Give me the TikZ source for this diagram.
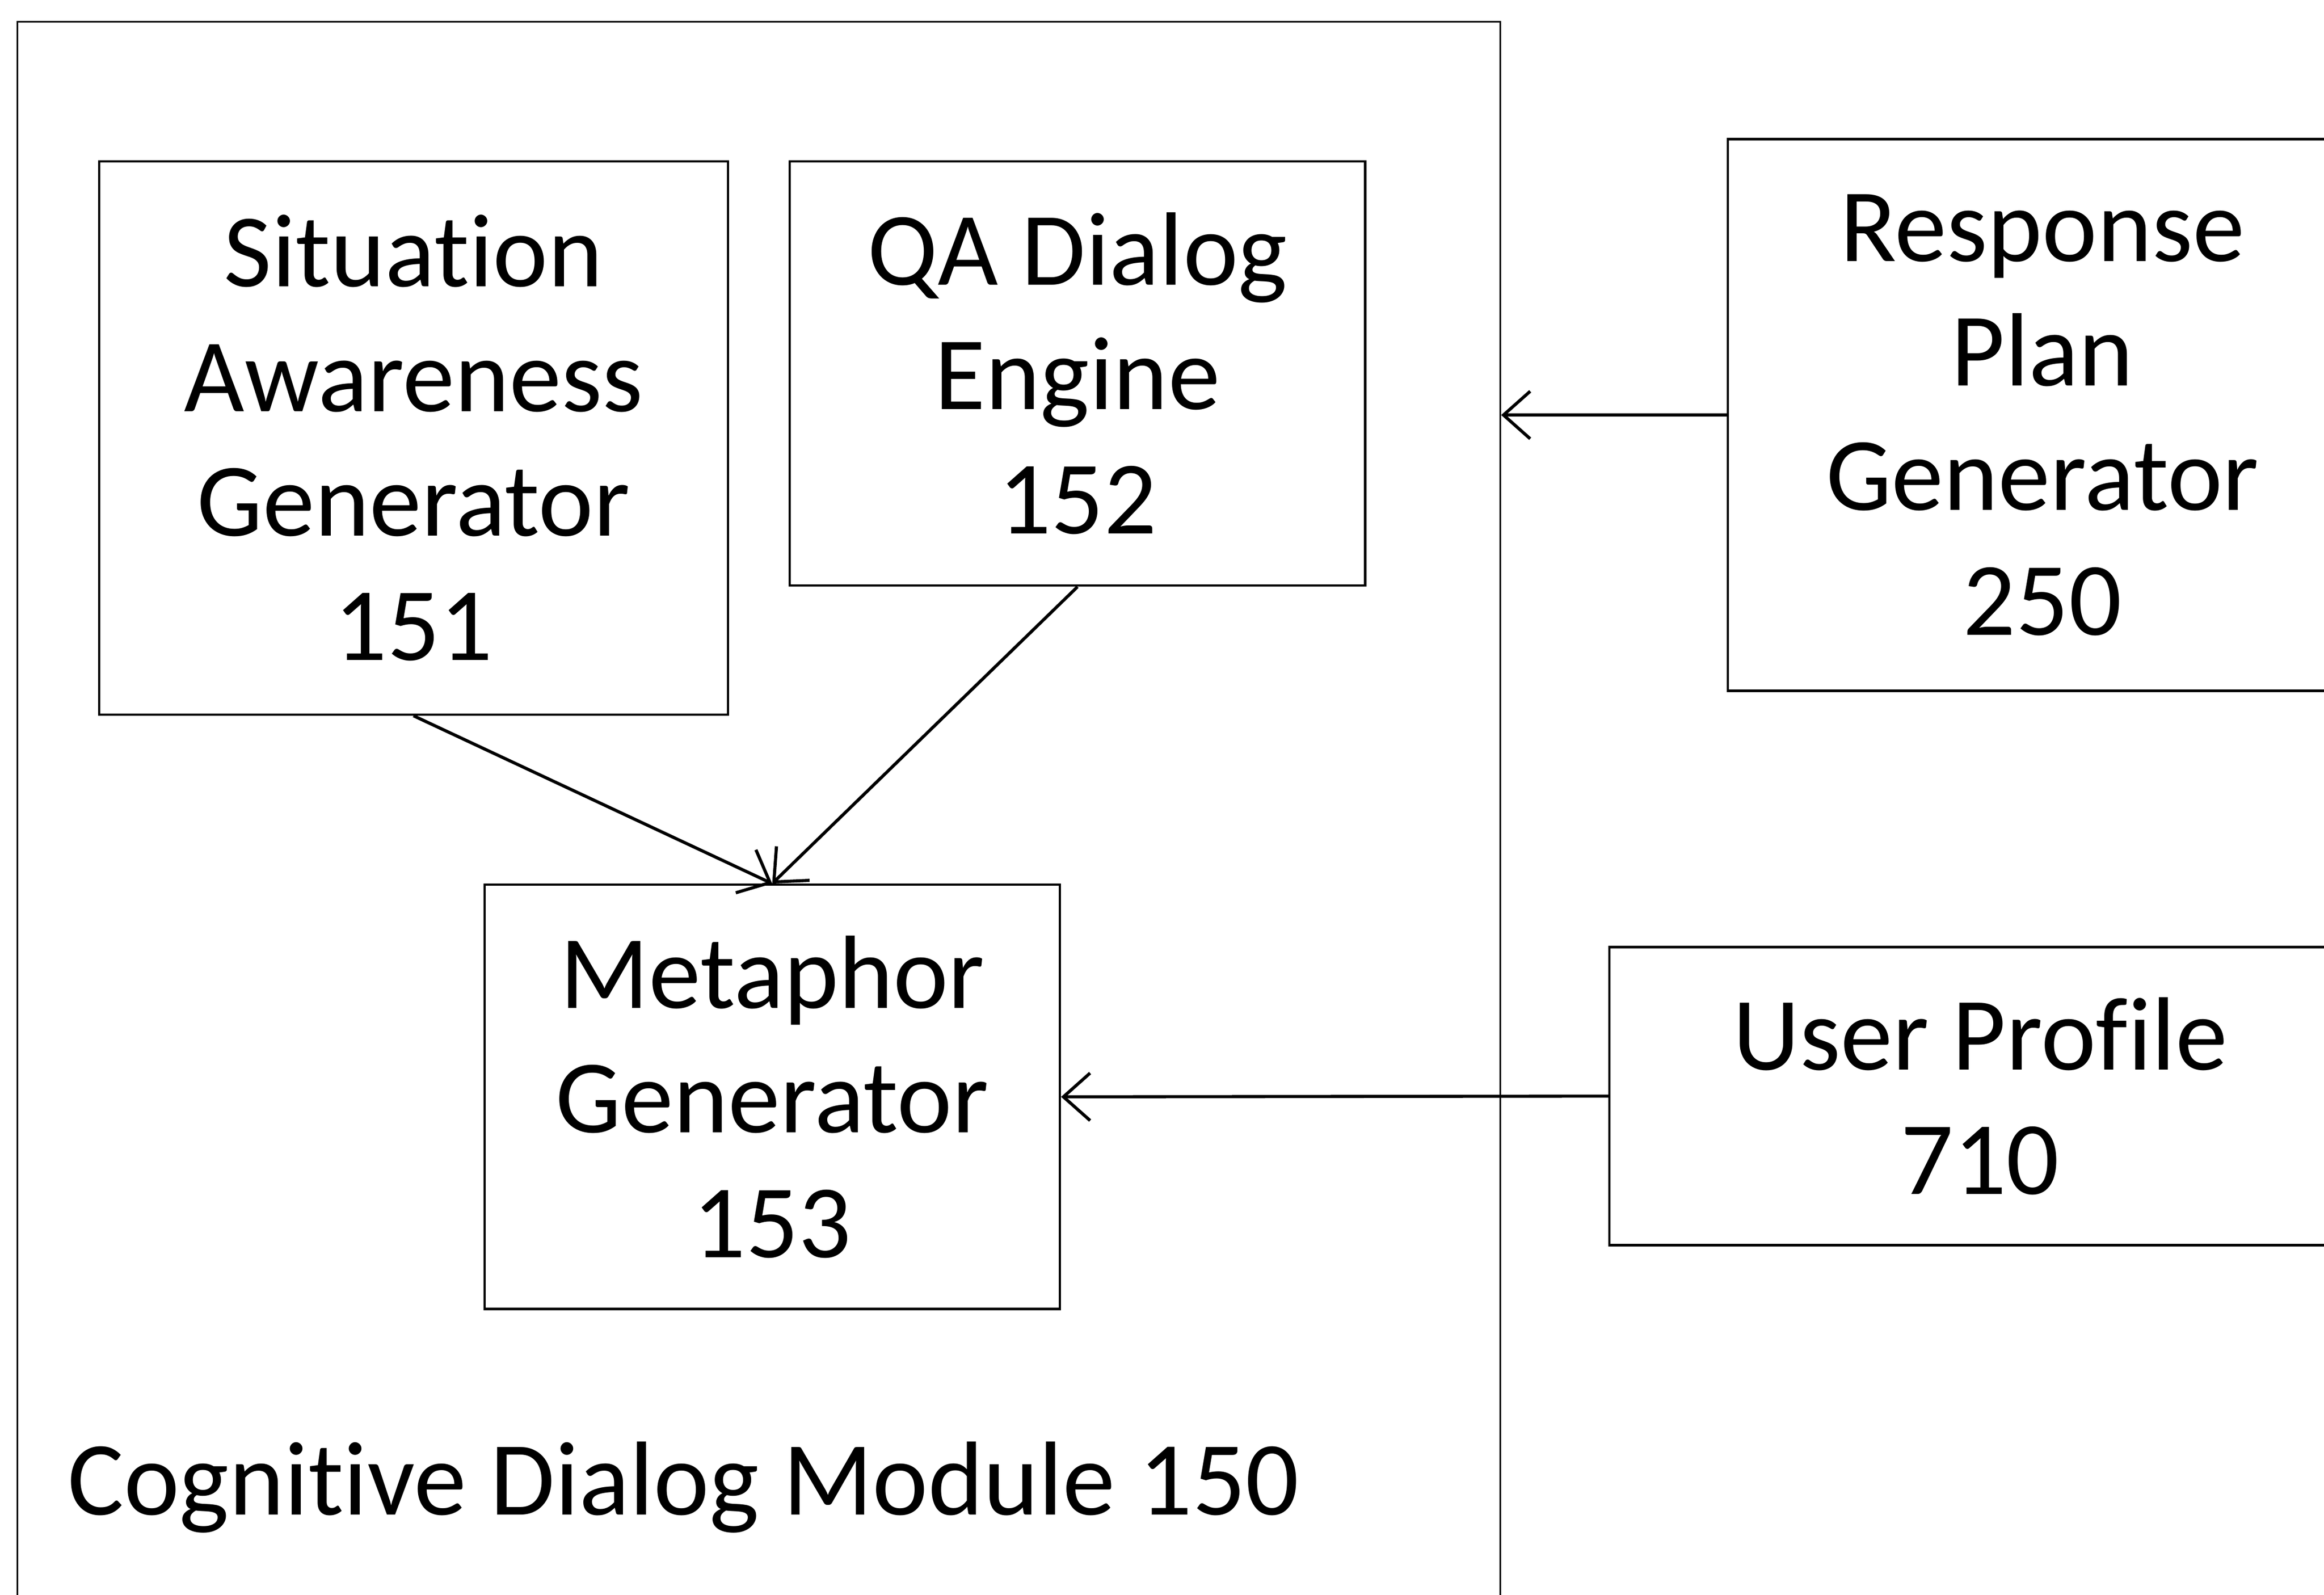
\documentclass[tikz,border=0pt]{standalone}
\usepackage{fontspec}
\setmainfont{Carlito}[Ligatures=NoCommon]
\usetikzlibrary{arrows.meta}

\tikzset{
    block/.style={draw, line width=0.45pt, inner sep=0pt, align=center,
        font=\fontsize{20}{23.9}\selectfont},
    link/.style={-{Straight Barb[length=1.8mm, width=3.2mm]}, line width=0.6pt},
}

\begin{document}
\begin{tikzpicture}[x=0.01cm, y=-0.01cm]
    \useasboundingbox (0, 0) rectangle (1568, 1076);
    \clip (0, 0) rectangle (1568, 1076);

    % module frame, runs off the bottom
    \node [draw, line width=0.3pt, inner sep=0pt, minimum width=10cm, minimum height=11cm] (cdm) at (512, 565) {};
    \node [anchor=base west, inner sep=0pt, font=\fontsize{20.2}{24}\selectfont] (cdmlabel) at (45, 1022) {Cognitive Dialog Module 150};

    \node [block, minimum width=4.24cm, minimum height=3.73cm] (sag) at (279, 295.5) {Situation\\Awareness\\Generator\\151};
    \node [block, minimum width=3.88cm, minimum height=2.86cm] (qa) at (727, 252) {QA Dialog\\Engine\\152};
    \node [block, minimum width=3.88cm, minimum height=2.86cm] (meta) at (521, 740) {Metaphor\\Generator\\153};

    % boxes outside the module, cut by the right edge
    \node [block, minimum width=4.24cm, minimum height=3.72cm] (resp) at (1378, 280) {Response\\Plan\\Generator\\250};
    \node [block, minimum width=5cm, minimum height=2.01cm] (user) at (1336, 739.5) {User Profile\\710};

    \draw [link] (sag.south) -- (meta.north);
    \draw [link] (qa.south) -- (meta.north);
    \draw [link] (resp.west) -- (resp.west -| cdm.east);
    \draw [link] (user.west) -- (meta.east);
\end{tikzpicture}
\end{document}
